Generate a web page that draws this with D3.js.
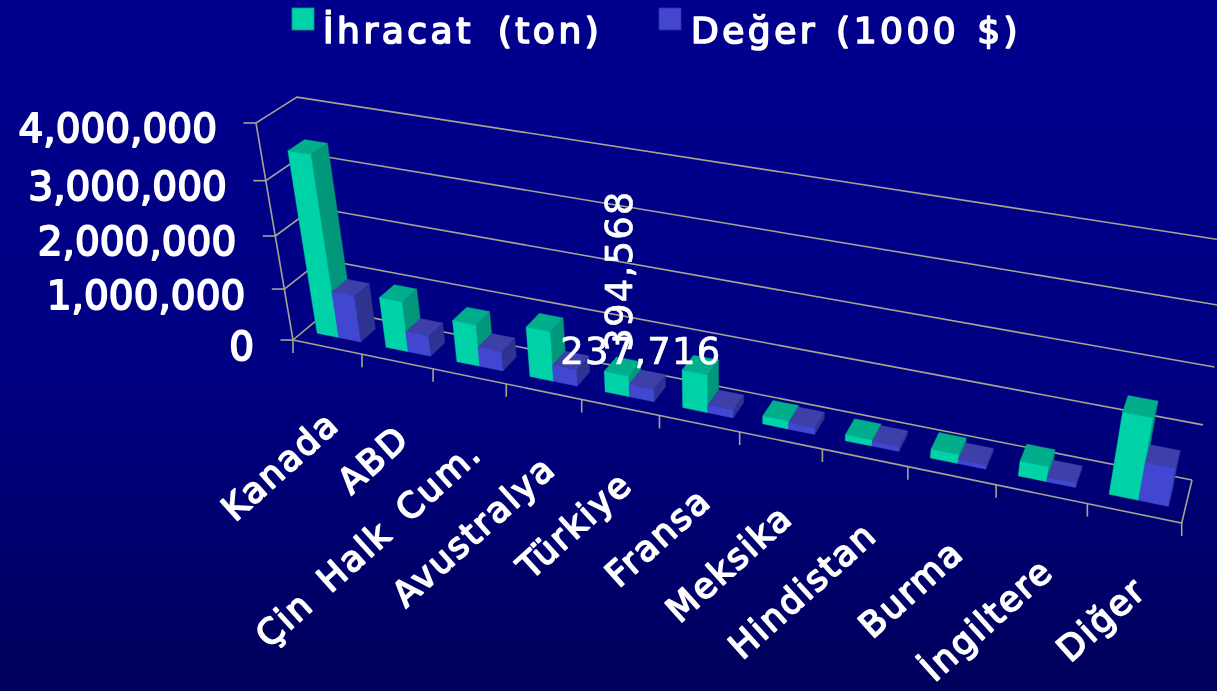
<!DOCTYPE html>
<html><head><meta charset="utf-8">
<script src="https://cdn.jsdelivr.net/npm/d3@7/dist/d3.min.js"></script>
<style>html,body{margin:0;padding:0;background:#000060;overflow:hidden}
text{font-family:"DejaVu Sans",sans-serif;fill:#fff;stroke:#fff;stroke-linejoin:round}</style>
</head><body><svg id="c" width="1217" height="691"></svg>
<script>
const categories=["Kanada","ABD","Çin Halk Cum.","Avustralya","Türkiye","Fransa","Meksika","Hindistan","Burma","İngiltere","Diğer"];
const exportTons=[3420000,970000,800000,950000,394568,715000,153000,115000,170000,275000,1460000];
const exportValue=[900000,395000,375000,312000,237716,148000,125000,85000,75000,80000,690000];
const seriesNames=["İhracat (ton)","Değer (1000 $)"];
const yTicks=[0,1000000,2000000,3000000,4000000];

const svg=d3.select("#c");
const defs=svg.append("defs");
const g=defs.append("linearGradient").attr("id","bg").attr("x1",0).attr("x2",0).attr("y1",0).attr("y2",1);
g.append("stop").attr("offset",0).attr("stop-color","#00008e");
g.append("stop").attr("offset",.55).attr("stop-color","#000082");
g.append("stop").attr("offset",1).attr("stop-color","#00005c");
defs.append("filter").attr("id","soft").attr("x",0).attr("y",0)
  .attr("filterUnits","userSpaceOnUse").attr("width",1217).attr("height",691)
  .append("feGaussianBlur").attr("stdDeviation",0.55);
svg.append("rect").attr("width",1217).attr("height",691).attr("fill","url(#bg)");
const root=svg.append("g").attr("filter","url(#soft)");

// homography: u along categories, d depth, v value
function proj(u,d,v){
  const w=1-0.158*u+0.0325*d-0.0796*v;
  return [(293+702*u+47.4*d-57.4*v)/w,(340+100.4*u-20.6*d-226.8*v)/w];
}
const uScale=d3.scaleBand().domain(categories).range([0,1]);
const vScale=d3.scaleLinear().domain([0,4000000]).range([0,1]);
const line=d3.line();
const gridCol="#a5a493";
const G=root.append("g").attr("fill","none").attr("stroke",gridCol).attr("stroke-width",1.6);
yTicks.forEach(t=>{
  const v=vScale(t);
  G.append("path").attr("d",line([proj(0,0,v),proj(0,1,v),proj(1,1,v)]));
  const p=proj(0,0,v);
  G.append("path").attr("d",line([p,[p[0]-12.5,p[1]]]));
});
G.append("path").attr("d",line([proj(0,0,0),proj(0,0,1)]));
G.append("path").attr("d",line([proj(0,0,0),proj(1,0,0),proj(1,1,0)]));
d3.range(0,12).forEach(i=>{
  const p=proj(i/11,0,0);
  G.append("path").attr("d",line([p,[p[0],p[1]+13]]));
});

const styles=[{f:"#00d2a8",s:"#00977a",t:"#00ae8c",a:0.19,b:0.507},{f:"#4347d2",s:"#2f3391",t:"#3c3fa9",a:0.507,b:0.825}];
const d0=0.3,d1=0.72;
const B=root.append("g");
function face(pts,col){B.append("path").attr("d",line(pts)+"Z").attr("fill",col).attr("stroke",col).attr("stroke-width",.4);}
categories.forEach((c,i)=>{
  [exportTons[i],exportValue[i]].forEach((val,k)=>{
    const st=styles[k],bw=uScale.bandwidth(),u0=uScale(c)+bw*st.a,u1=uScale(c)+bw*st.b,v=vScale(val);
    face([proj(u1,d0,0),proj(u1,d1,0),proj(u1,d1,v),proj(u1,d0,v)],st.s);
    face([proj(u0,d0,v),proj(u1,d0,v),proj(u1,d1,v),proj(u0,d1,v)],st.t);
    face([proj(u0,d0,0),proj(u1,d0,0),proj(u1,d0,v),proj(u0,d0,v)],st.f);
  });
});

// y labels
const fmt=d3.format(",");
yTicks.forEach(t=>{
  const p=proj(0,0,vScale(t));
  root.append("text").attr("x",p[0]-39).attr("y",p[1]+19.5).attr("text-anchor","end")
    .attr("font-size",39).attr("stroke-width",1.8).text(fmt(t));
});
// category labels
categories.forEach(c=>{
  const u=uScale(c)+uScale.bandwidth()/2,p=proj(u,0,0);
  root.append("text").attr("transform",`translate(${p[0]+14},${p[1]+80}) rotate(-42)`).attr("text-anchor","end")
    .attr("font-size",35).attr("letter-spacing",2).attr("word-spacing",7).attr("stroke-width",1.7).text(c);
});
// data labels
const iT=categories.indexOf("Türkiye"),bw=uScale.bandwidth();
const pa=proj(uScale("Türkiye")+bw*.35,d0,vScale(exportTons[iT]));
root.append("text").attr("transform",`translate(${pa[0]+15},${pa[1]-22}) rotate(-90)`)
  .attr("font-size",37).attr("letter-spacing",1.2).attr("stroke-width",.7).text(fmt(exportTons[iT]));
const pb=proj(uScale("Türkiye")+bw*.66,d0,vScale(exportValue[iT]));
root.append("text").attr("x",pb[0]).attr("y",pb[1]-23).attr("text-anchor","middle")
  .attr("font-size",37).attr("letter-spacing",1.2).attr("stroke-width",.7).text(fmt(exportValue[iT]));
// legend
const lx=[292,659],tx=[323,691];
seriesNames.forEach((n,i)=>{
  root.append("rect").attr("x",lx[i]).attr("y",8).attr("width",22).attr("height",22).attr("fill",styles[i].f).attr("stroke",styles[i].s).attr("stroke-width",.8);
  root.append("text").attr("x",tx[i]).attr("y",43).attr("font-size",36).attr("letter-spacing",3.5).attr("word-spacing",i?3:9).attr("stroke-width",1.7).text(n);
});
</script></body></html>
